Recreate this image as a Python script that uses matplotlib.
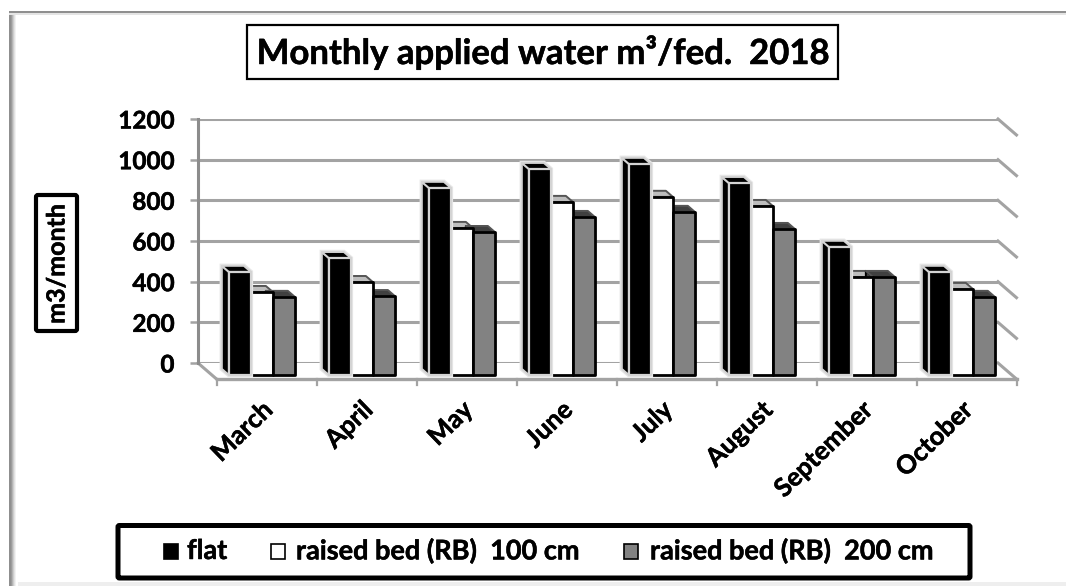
import matplotlib
matplotlib.use("Agg")
import matplotlib.pyplot as plt
import matplotlib.patheffects as pe
from matplotlib.patches import Polygon, Rectangle, FancyBboxPatch

months = ['March', 'April', 'May', 'June', 'July', 'August', 'September', 'October']
flat = [507, 575, 920, 1013, 1038, 944, 630, 507]
rb100 = [408, 457, 723, 851, 876, 831, 482, 423]
rb200 = [384, 388, 703, 777, 802, 718, 482, 384]
series_names = ['flat', 'raised bed (RB)  100 cm', 'raised bed (RB)  200 cm']
yticks = [0, 200, 400, 600, 800, 1000, 1200]

W, H = 1066, 586
DX, DY = 0.185, 78.7   # depth of the floor, in data units
FRONT, BACK = 0.75, 0.37  # where bars sit in the depth
BAR_W = 0.22
GRID = '#a3a3a3'
WALL = '#8c8c8c'

# face, top, side, edge
styles = [
    ('#000000', '#000000', '#000000', '#d4d4d4'),
    ('#ffffff', '#bdbdbd', '#bdbdbd', '#000000'),
    ('#828282', '#404040', '#404040', '#000000'),
]

plt.rcParams['font.family'] = ['Lato', 'DejaVu Sans']
plt.rcParams['font.weight'] = 'bold'
heavy = [pe.withStroke(linewidth=0.35, foreground='black')]

fig = plt.figure(figsize=(W / 100, H / 100), dpi=100, facecolor='white')

# overlay in pixel coordinates for the frame and the text boxes
bg = fig.add_axes([0, 0, 1, 1], zorder=0)
bg.set_xlim(0, W)
bg.set_ylim(H, 0)
bg.axis('off')

ax = fig.add_axes([198 / W, (H - 363) / H, 800 / W, 244 / H], zorder=1)
ax.set_xlim(0, 8)
ax.set_ylim(0, 1200)
ax.patch.set_alpha(0)


def project(x, v, d):
    return (x + d * DX, v - d * DY)


# frame with shadow on the left
for i, c in enumerate(['#8f8f8f', '#8f8f8f', '#9c9c9c', '#b4b4b4', '#cdcdcd', '#e2e2e2', '#f2f2f2']):
    bg.add_patch(Rectangle((9 + i, 12), 1, H - 12, fc=c, ec='none'))
bg.add_patch(Rectangle((9, 11), W - 9, 2.4, fc='#8f8f8f', ec='none'))
bg.add_patch(Rectangle((9, 13.4), W - 9, 1.2, fc='#e4e4e4', ec='none'))
bg.add_patch(Rectangle((18, 582), W - 18, 4, fc='#eeeeee', ec='none'))

# back wall and gridlines
for spine in ax.spines.values():
    spine.set_visible(False)
ax.spines['left'].set_visible(True)
ax.spines['left'].set_color(WALL)
ax.spines['left'].set_linewidth(2.2)
ax.set_yticks(yticks)
ax.set_yticklabels([str(t) for t in yticks], fontsize=17.5, fontweight='bold', path_effects=heavy)
ax.tick_params(axis='y', length=6, width=1.8, color=GRID, pad=11)
ax.set_xticks([])
for t in yticks:
    ax.plot([0, 8], [t, t], color=GRID, lw=2.2, zorder=1, solid_capstyle='butt')
    a, b = project(8, t, 0), project(8, t, 1)
    ax.plot([a[0], b[0]], [a[1], b[1]], color=GRID, lw=2.2, zorder=1, clip_on=False)

# floor
a, b = project(0, 0, 0), project(0, 0, 1)
ax.plot([a[0], b[0]], [a[1], b[1]], color=GRID, lw=2.2, clip_on=False, zorder=1)
a, b = project(0, 0, 1), project(8, 0, 1)
ax.plot([a[0], b[0]], [a[1], b[1]], color=GRID, lw=2.4, clip_on=False, zorder=1)
for i in range(len(months) + 1):
    p = project(i, 0, 1)
    ax.plot([p[0], p[0]], [p[1], p[1] - 30], color=GRID, lw=1.6, clip_on=False, zorder=1)

# bars, the flat series goes on top and hides the sides of the others
for i in range(len(months)):
    for k, vals in enumerate([flat, rb100, rb200]):
        v = vals[i]
        face, top, side, edge = styles[k]
        x0 = i + 0.17 + k * BAR_W
        x1 = x0 + BAR_W
        fb = [project(x0, 0, FRONT), project(x1, 0, FRONT), project(x1, v, FRONT), project(x0, v, FRONT)]
        bb = [project(x0, 0, BACK), project(x1, 0, BACK), project(x1, v, BACK), project(x0, v, BACK)]
        z = 4 + 2 * k if k else 9
        lw = 1.6 if k == 0 else 2.0
        if k == 0:
            # light halo around the flat bars
            halo = [fb[0], fb[1], fb[2], bb[2], bb[3], bb[0]]
            ax.add_patch(Polygon(halo, closed=True, fc='none', ec='#e6e6e6', lw=3.2, clip_on=False, zorder=z - 0.5))
        ax.add_patch(Polygon([bb[0], fb[0], fb[3], bb[3]], closed=True, fc=side, ec=edge, lw=1.4,
                             clip_on=False, zorder=z - 3 if k else z, joinstyle='round'))
        ax.add_patch(Polygon([fb[3], fb[2], bb[2], bb[3]], closed=True, fc=top, ec=edge if k == 0 else '#555555',
                             lw=1.4, clip_on=False, zorder=z - 3 if k else z, joinstyle='round'))
        ax.add_patch(Polygon(fb, closed=True, fc=face, ec=edge, lw=lw, clip_on=False, zorder=z + 0.5,
                             joinstyle='round'))

# category labels
for i, m in enumerate(months):
    p = project(i + 0.5, 0, 1)
    ax.annotate(m, xy=p, xytext=(-6, -18), textcoords='offset pixels', rotation=44, rotation_mode='anchor',
                ha='right', va='top', fontsize=18.5, fontweight='bold', annotation_clip=False, color='black',
                path_effects=heavy)

# title box
bg.add_patch(Rectangle((247, 25), 591, 53.5, fc='white', ec='black', lw=1.6))
bg.text(543.5, 52, 'Monthly applied water m\u00b3/fed.  2018', ha='center', va='center', fontsize=25,
        fontweight='bold', color='black', path_effects=heavy)

# y label box
bg.add_patch(FancyBboxPatch((36, 195), 41, 136, boxstyle='round,pad=0,rounding_size=2', fc='white', ec='black', lw=3))
bg.text(57, 264, 'm3/month', rotation=90, ha='center', va='center', fontsize=18, fontweight='bold',
        path_effects=heavy)

# legend box
bg.add_patch(FancyBboxPatch((118, 525.5), 852, 52.5, boxstyle='round,pad=0,rounding_size=1.5', fc='white', ec='black', lw=3.6))
swatch_x = [164, 271, 624]
label_x = [187, 296, 650]
for x, lx, name, st in zip(swatch_x, label_x, series_names, styles):
    bg.add_patch(Rectangle((x, 544), 14, 15, fc=st[0], ec='black', lw=1.2))
    bg.text(lx, 551, name, ha='left', va='center', fontsize=19.5, fontweight='bold', path_effects=heavy)

fig.savefig('out.png', dpi=100, facecolor='white')
